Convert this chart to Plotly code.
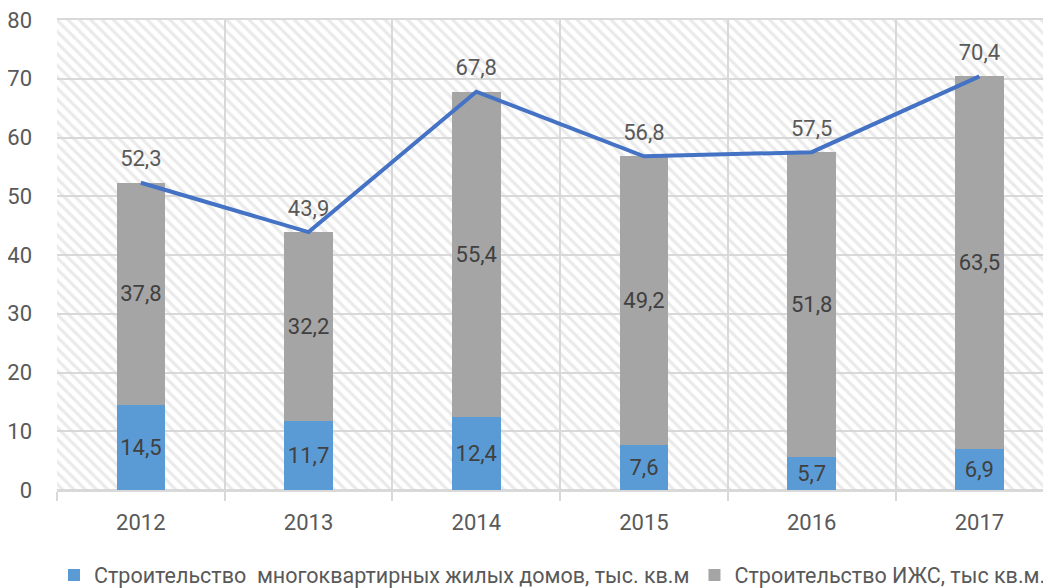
import plotly.graph_objects as go

years = ["2012", "2013", "2014", "2015", "2016", "2017"]
mkd = [14.5, 11.7, 12.4, 7.6, 5.7, 6.9]
izhs = [37.8, 32.2, 55.4, 49.2, 51.8, 63.5]
total = [52.3, 43.9, 67.8, 56.8, 57.5, 70.4]
y_ticks = [0, 10, 20, 30, 40, 50, 60, 70, 80]

name_mkd = "Строительство\u00a0 многоквартирных жилых домов, тыс. кв.м"
name_izhs = "Строительство ИЖС, тыс кв.м."

BLUE = "#5B9BD5"
GRAY = "#A5A5A5"
LINE = "#4472C4"
FONT = "Roboto, Open Sans, sans-serif"
TXT = "#595959"
GRID = "#D9D9D9"


def fmt(v):
    return f"{v:.1f}".replace(".", ",")


fig = go.Figure()

# hatched plot background
fig.add_trace(go.Bar(
    x=[0.5], y=[1], width=[1], base=[0], xaxis="x", yaxis="y",
    marker=dict(color="rgba(0,0,0,0)", line=dict(width=0),
                pattern=dict(shape="\\", fgcolor="#D6D6D6", bgcolor="rgba(0,0,0,0)",
                             size=8, solidity=0.4)),
    showlegend=False, hoverinfo="skip",
))

fig.add_trace(go.Bar(
    x=years, y=mkd, name=name_mkd, xaxis="x2", yaxis="y2",
    marker=dict(color=BLUE, line=dict(width=0)),
    text=[fmt(v) for v in mkd], textposition="inside",
    insidetextanchor="middle", constraintext="none",
    textfont=dict(family=FONT, size=22, color="#404040"),
    hoverinfo="skip",
))
fig.add_trace(go.Bar(
    x=years, y=izhs, name=name_izhs, xaxis="x2", yaxis="y2",
    marker=dict(color=GRAY, line=dict(width=0)),
    text=[fmt(v) for v in izhs], textposition="inside",
    insidetextanchor="middle", constraintext="none",
    textfont=dict(family=FONT, size=22, color="#404040"),
    hoverinfo="skip",
))
fig.add_trace(go.Scatter(
    x=years, y=total, xaxis="x2", yaxis="y2", mode="lines+markers+text",
    line=dict(color=LINE, width=4),
    marker=dict(size=16, color="rgba(0,0,0,0)", line=dict(width=0)),
    text=[fmt(v) for v in total], textposition="top center",
    textfont=dict(family=FONT, size=22, color=TXT),
    showlegend=False, cliponaxis=False, hoverinfo="skip",
))

fig.update_layout(
    width=1043, height=588,
    margin=dict(l=49, r=0, t=12, b=106),
    paper_bgcolor="white", plot_bgcolor="white",
    barmode="stack", bargap=0.71,
    font=dict(family=FONT, size=20, color=TXT),
    xaxis=dict(range=[0, 1], visible=False, showgrid=False, zeroline=False),
    yaxis=dict(range=[0, 1], visible=False, showgrid=False, zeroline=False),
    xaxis2=dict(overlaying="x", type="category", range=[-0.5, 5.427],
                tickson="boundaries", showgrid=True, gridcolor=GRID, gridwidth=2,
                ticks="outside", ticklen=9, tickcolor=GRID, tickwidth=2,
                showline=True, mirror=True, linecolor=GRID, linewidth=2,
                automargin=False,
                tickfont=dict(family=FONT, size=22, color=TXT),
                ticklabelstandoff=12, ticklabeloverflow="allow"),
    yaxis2=dict(overlaying="y", range=[0, 80], tickvals=y_ticks,
                showgrid=True, gridcolor=GRID, gridwidth=2,
                zeroline=True, zerolinecolor=GRID, zerolinewidth=2,
                showline=False, ticks="", automargin=False,
                tickfont=dict(family=FONT, size=22, color=TXT),
                ticklabelstandoff=24, ticklabeloverflow="allow"),
    legend=dict(orientation="h", x=-0.003, xanchor="left", y=-0.181, yanchor="middle",
                font=dict(family=FONT, size=21.5, color=TXT),
                traceorder="normal", itemwidth=30),
)

fig.write_html("out.html")
